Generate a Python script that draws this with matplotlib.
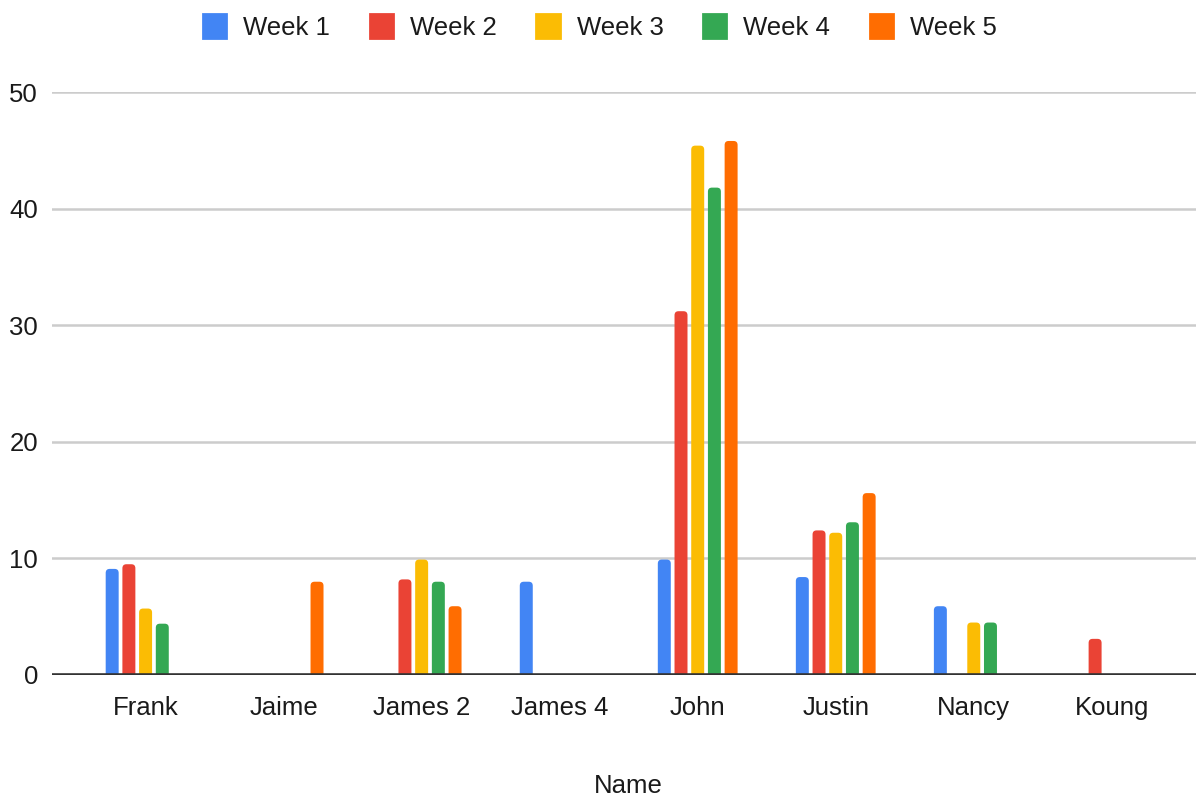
import matplotlib
matplotlib.use("Agg")
import matplotlib.pyplot as plt
import numpy as np
from matplotlib.patches import Patch, FancyBboxPatch

plt.rcParams['font.family'] = ['Liberation Sans', 'DejaVu Sans']

names = ["Frank", "Jaime", "James 2", "James 4", "John", "Justin", "Nancy", "Koung"]
series = ["Week 1", "Week 2", "Week 3", "Week 4", "Week 5"]
week1 = [9.1, 0, 0, 8.0, 9.9, 8.4, 5.9, 0]
week2 = [9.5, 0, 8.2, 0, 31.2, 12.4, 0, 3.1]
week3 = [5.7, 0, 9.9, 0, 45.4, 12.2, 4.5, 0]
week4 = [4.4, 0, 8.0, 0, 41.8, 13.1, 4.5, 0]
week5 = [0, 8.0, 5.9, 0, 45.8, 15.6, 0, 0]
colors = ["#4285F4", "#EA4335", "#FBBC04", "#34A853", "#FF6D01"]

values = [week1, week2, week3, week4, week5]

W, H = 1196, 799
fig = plt.figure(figsize=(W / 100, H / 100), dpi=100)
ax_left, ax_right, ax_top, ax_bottom = 52, 1196, 92, 675
ax = fig.add_axes([ax_left / W, 1 - ax_bottom / H, (ax_right - ax_left) / W, (ax_bottom - ax_top) / H])

ymax = 50
xlim = (-0.678, 7.61)
ax.set_ylim(0, ymax)
ax.set_xlim(*xlim)

# pixel size of one data unit, used to keep the bar corners circular
px_x = (ax_right - ax_left) / (xlim[1] - xlim[0])
px_y = (ax_bottom - ax_top) / ymax
radius_px = 4.0

x = np.arange(len(names))
step = 0.121
width = 0.094
for i, (vals, col) in enumerate(zip(values, colors)):
    offs = (i - 2) * step
    for xi, v in zip(x, vals):
        if v <= 0:
            continue
        bottom = -1.0  # start below the axis so only the top corners show rounded
        p = FancyBboxPatch((xi + offs - width / 2, bottom), width, v - bottom,
                           boxstyle=f"round,pad=0,rounding_size={radius_px / px_x}",
                           mutation_aspect=px_x / px_y,
                           facecolor=col, edgecolor="none", zorder=3)
        ax.add_patch(p)

fs = 18.5
ax.set_yticks([0, 10, 20, 30, 40, 50])
ax.set_xticks(x)
ax.set_xticklabels(names)
ax.yaxis.grid(True, color="#cccccc", linewidth=1.8, zorder=0)
ax.axhline(0, color="#333333", linewidth=2.6, zorder=4)
for s in ax.spines.values():
    s.set_visible(False)
ax.tick_params(axis='both', length=0, labelsize=fs, colors="#1a1a1a")
ax.tick_params(axis='x', pad=15)
ax.tick_params(axis='y', pad=10)
ax.set_xlabel("Name", fontsize=fs, color="#1a1a1a")
ax.xaxis.set_label_coords(0.5 + 4 / (ax_right - ax_left), -(786 - ax_bottom) / (ax_bottom - ax_top))
ax.xaxis.label.set_va('center')

handles = [Patch(facecolor=c, edgecolor=c, linewidth=2, joinstyle='round') for c in colors]
fig.legend(handles, series, loc='center', bbox_to_anchor=(600 / W, 1 - 27 / H),
           ncol=5, frameon=False, fontsize=fs, handlelength=0.9, handleheight=1.05,
           handletextpad=0.66, columnspacing=1.55, labelcolor="#1a1a1a")

fig.savefig("out.png", dpi=100, facecolor="white")
